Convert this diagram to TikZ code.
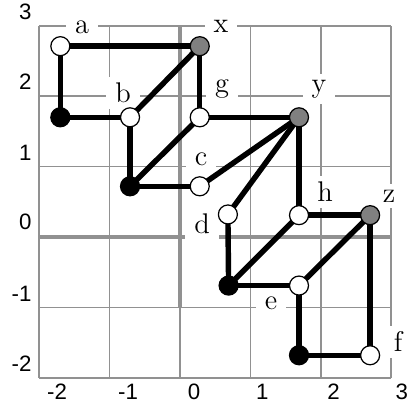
\documentclass[tikz,border=0pt]{standalone}
\usepackage{fontspec}
\newfontfamily\ticksf{Liberation Sans}
\definecolor{gridgray}{RGB}{145,145,145}
\definecolor{nodegray}{RGB}{128,128,128}
\pgfdeclarelayer{background}
\pgfsetlayers{background,main}
\begin{document}
\begin{tikzpicture}[x=1cm,y=1cm,
  gridthin/.style={draw=gridgray, line width=0.6pt},
  gridthick/.style={draw=gridgray, line width=1.4pt},
  lbl/.style={fill=white, inner xsep=3.6pt, inner ysep=2.5pt, font=\fontsize{11.5}{13}\selectfont},
  tick/.style={font=\ticksf\fontsize{9}{10}\selectfont, inner sep=0pt},
  vtx/.style={circle, draw=black, line width=0.5pt, minimum size=0.27cm, inner sep=0pt},
  wv/.style={vtx, fill=white},
  bv/.style={vtx, fill=black},
  gv/.style={vtx, fill=nodegray},
  edge/.style={line width=2.2pt, draw=black}
]
\useasboundingbox (-2.557,-2.429) rectangle (3.210,3.366);

% vertices
\node[wv] (a)  at (-1.70, 2.71) {};
\node[bv] (p)  at (-1.70, 1.70) {};
\node[wv] (b)  at (-0.71, 1.70) {};
\node[gv] (x)  at ( 0.28, 2.71) {};
\node[bv] (q)  at (-0.71, 0.72) {};
\node[wv] (g)  at ( 0.28, 1.70) {};
\node[wv] (c)  at ( 0.28, 0.72) {};
\node[gv] (y)  at ( 1.69, 1.70) {};
\node[wv] (d)  at ( 0.68, 0.32) {};
\node[wv] (h)  at ( 1.69, 0.31) {};
\node[gv] (z)  at ( 2.70, 0.31) {};
\node[bv] (r)  at ( 0.69,-0.69) {};
\node[wv] (e)  at ( 1.69,-0.69) {};
\node[bv] (s)  at ( 1.69,-1.68) {};
\node[wv] (f)  at ( 2.70,-1.68) {};

\begin{pgfonlayer}{background}
% grid
\foreach \k in {-2,...,3} {
  \draw[gridthin] (\k,-2) -- (\k,3);
  \draw[gridthin] (-2,\k) -- (3,\k);
}
\draw[gridthick] (-2,0) -- (3,0);
\draw[gridthick] (0,-1) -- (0,3);

% tick labels
\node[tick] (tx1) at (-1.747,-2.20) {-2};
\node[tick] (tx2) at (-0.739,-2.20) {-1};
\node[tick] (tx3) at ( 0.199,-2.20) {0};
\node[tick] (tx4) at ( 1.170,-2.20) {1};
\node[tick] (tx5) at ( 2.180,-2.20) {2};
\node[tick] (tx6) at ( 3.150,-2.20) {3};
\node[tick, anchor=east] (ty1) at (-2.102, 3.196) {3};
\node[tick, anchor=east] (ty2) at (-2.102, 2.200) {2};
\node[tick, anchor=east] (ty3) at (-2.102, 1.190) {1};
\node[tick, anchor=east] (ty4) at (-2.102, 0.210) {0};
\node[tick, anchor=east] (ty5) at (-2.102,-0.810) {-1};
\node[tick, anchor=east] (ty6) at (-2.102,-1.800) {-2};

% vertex labels
\node[lbl] (la) at (-1.392, 2.983) {a};
\node[lbl] (lb) at (-0.810, 2.045) {b};
\node[lbl] (lx) at ( 0.582, 2.997) {x};
\node[lbl] (lg) at ( 0.597, 2.102) {g};
\node[lbl] (ly) at ( 1.974, 2.102) {y};
\node[lbl] (lc) at ( 0.298, 1.108) {c};
\node[lbl] (ld) at ( 0.313, 0.185) {d};
\node[lbl] (lh) at ( 2.060, 0.639) {h};
\node[lbl] (lz) at ( 2.969, 0.582) {z};
\node[lbl] (le) at ( 1.293,-0.938) {e};
\node[lbl] (lf) at ( 3.097,-1.491) {f};

% edges
\draw[edge] (a.center) -- (x.center);
\draw[edge] (a.center) -- (p.center);
\draw[edge] (p.center) -- (b.center);
\draw[edge] (b.center) -- (x.center);
\draw[edge] (x.center) -- (g.center);
\draw[edge] (b.center) -- (q.center);
\draw[edge] (q.center) -- (g.center);
\draw[edge] (q.center) -- (c.center);
\draw[edge] (g.center) -- (y.center);
\draw[edge] (c.center) -- (y.center);
\draw[edge] (d.center) -- (y.center);
\draw[edge] (y.center) -- (h.center);
\draw[edge] (d.center) -- (r.center);
\draw[edge] (r.center) -- (h.center);
\draw[edge] (h.center) -- (z.center);
\draw[edge] (r.center) -- (e.center);
\draw[edge] (e.center) -- (z.center);
\draw[edge] (z.center) -- (f.center);
\draw[edge] (e.center) -- (s.center);
\draw[edge] (s.center) -- (f.center);
\end{pgfonlayer}
\end{tikzpicture}
\end{document}
